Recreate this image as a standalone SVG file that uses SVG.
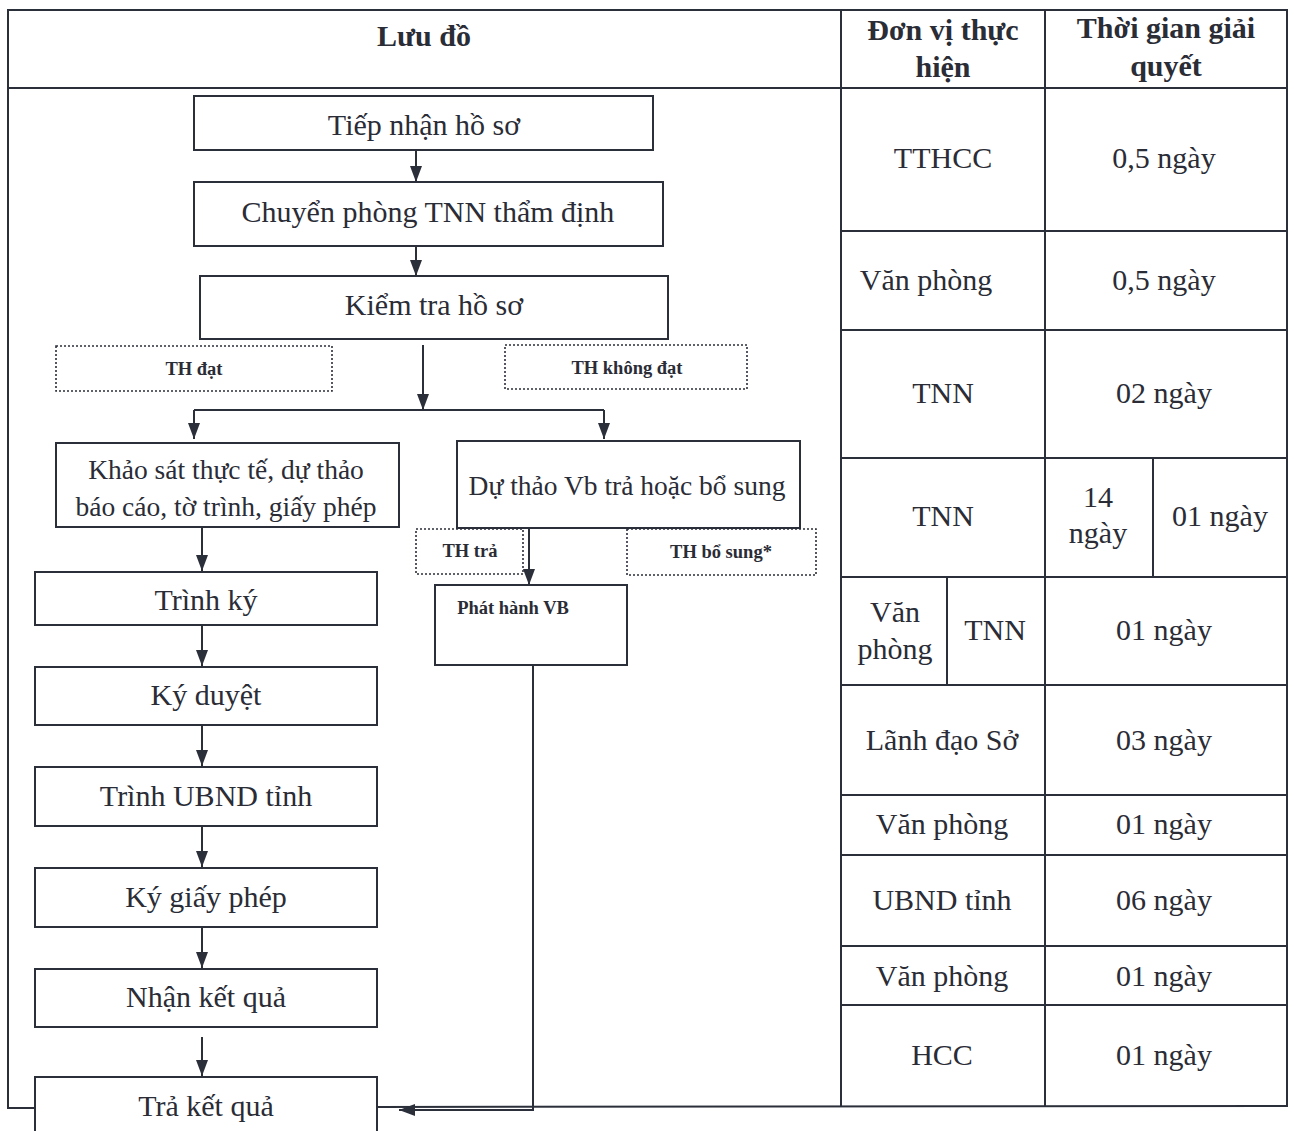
<svg xmlns="http://www.w3.org/2000/svg" width="1294" height="1131" viewBox="0 0 1294 1131">
  <style>
    .frame { fill: none; stroke: #2b2f3a; stroke-width: 2; }
    .box { fill: #ffffff; stroke: #2b2f3a; stroke-width: 2; }
    .dot { fill: #ffffff; stroke: #2b2f3a; stroke-width: 1.6; stroke-dasharray: 2 2; }
    .link { fill: none; stroke: #2b2f3a; stroke-width: 2; }
    text { font-family: "Liberation Serif", "Times New Roman", serif; fill: #2a2c36; text-anchor: middle; }
    .t { font-size: 30px; }
    .t2 { font-size: 27.5px; }
    .h { font-size: 30px; font-weight: bold; }
    .s { font-size: 18.5px; font-weight: bold; }
  </style>
  <defs>
    <marker id="arrow" viewBox="0 0 16 12" refX="16" refY="6" markerWidth="16" markerHeight="12" markerUnits="userSpaceOnUse" orient="auto">
      <path d="M0,0 L16,6 L0,12 Z" fill="#2b2f3a"/>
    </marker>
  </defs>
  <rect width="1294" height="1131" fill="#ffffff"/>

  <!-- table frame and grid -->
  <g id="table">
    <path class="frame" d="M35,1108 L8,1108 L8,10 L1287,10 L1287,1106 L377,1107"/>
    <path class="frame" d="M8,88 L1287,88"/>
    <path class="frame" d="M841,10 L841,1107 M1045,10 L1045,1106"/>
    <path class="frame" d="M841,231 L1287,231 M841,330 L1287,330 M841,458 L1287,458 M841,577 L1287,577 M841,685 L1287,685 M841,795 L1287,795 M841,855 L1287,855 M841,946 L1287,946 M841,1005 L1287,1005"/>
    <path class="frame" d="M1153,458 L1153,577 M947,577 L947,685"/>
    <text class="h" x="424" y="46">Lưu đồ</text>
    <text class="h" x="943" y="40">Đơn vị thực</text>
    <text class="h" x="943" y="77">hiện</text>
    <text class="h" x="1166" y="38">Thời gian giải</text>
    <text class="h" x="1166" y="76">quyết</text>

    <text class="t" x="943" y="168">TTHCC</text>
    <text class="t" x="1164" y="168">0,5 ngày</text>
    <text class="t" x="926" y="290">Văn phòng</text>
    <text class="t" x="1164" y="290">0,5 ngày</text>
    <text class="t" x="943" y="403">TNN</text>
    <text class="t" x="1164" y="403">02 ngày</text>
    <text class="t" x="943" y="526">TNN</text>
    <text class="t" x="1098" y="507">14</text>
    <text class="t" x="1098" y="543">ngày</text>
    <text class="t" x="1220" y="526">01 ngày</text>
    <text class="t" x="895" y="622">Văn</text>
    <text class="t" x="895" y="659">phòng</text>
    <text class="t" x="995" y="640">TNN</text>
    <text class="t" x="1164" y="640">01 ngày</text>
    <text class="t" x="942" y="750">Lãnh đạo Sở</text>
    <text class="t" x="1164" y="750">03 ngày</text>
    <text class="t" x="942" y="834">Văn phòng</text>
    <text class="t" x="1164" y="834">01 ngày</text>
    <text class="t" x="942" y="910">UBND tỉnh</text>
    <text class="t" x="1164" y="910">06 ngày</text>
    <text class="t" x="942" y="986">Văn phòng</text>
    <text class="t" x="1164" y="986">01 ngày</text>
    <text class="t" x="942" y="1065">HCC</text>
    <text class="t" x="1164" y="1065">01 ngày</text>
  </g>

  <!-- connectors -->
  <g id="connectors">
    <path class="link" d="M416,150 L416,182" marker-end="url(#arrow)"/>
    <path class="link" d="M416,246 L416,276" marker-end="url(#arrow)"/>
    <path class="link" d="M423,345 L423,410" marker-end="url(#arrow)"/>
    <path class="link" d="M194,410 L604,410"/>
    <path class="link" d="M194,410 L194,439" marker-end="url(#arrow)"/>
    <path class="link" d="M604,410 L604,439" marker-end="url(#arrow)"/>
    <path class="link" d="M529,528 L529,585" marker-end="url(#arrow)"/>
    <path class="link" d="M202,527 L202,571" marker-end="url(#arrow)"/>
    <path class="link" d="M202,625 L202,666" marker-end="url(#arrow)"/>
    <path class="link" d="M202,725 L202,766" marker-end="url(#arrow)"/>
    <path class="link" d="M202,826 L202,867" marker-end="url(#arrow)"/>
    <path class="link" d="M202,927 L202,968" marker-end="url(#arrow)"/>
    <path class="link" d="M202,1037 L202,1076" marker-end="url(#arrow)"/>
    <path class="link" d="M533,665 L533,1110 L399,1110" marker-end="url(#arrow)"/>
  </g>

  <!-- flowchart steps -->
  <g id="tiep-nhan">
    <rect class="box" x="194" y="96" width="459" height="54"/>
    <text class="t" x="424" y="135">Tiếp nhận hồ sơ</text>
  </g>
  <g id="chuyen-phong">
    <rect class="box" x="194" y="182" width="469" height="64"/>
    <text class="t" x="428" y="222">Chuyển phòng TNN thẩm định</text>
  </g>
  <g id="kiem-tra">
    <rect class="box" x="200" y="276" width="468" height="63"/>
    <text class="t" x="434" y="315">Kiểm tra hồ sơ</text>
  </g>
  <g id="th-dat">
    <rect class="dot" x="56" y="346" width="276" height="45"/>
    <text class="s" x="194" y="375">TH đạt</text>
  </g>
  <g id="th-khong-dat">
    <rect class="dot" x="505" y="345" width="242" height="44"/>
    <text class="s" x="627" y="374">TH không đạt</text>
  </g>
  <g id="khao-sat">
    <rect class="box" x="56" y="443" width="343" height="84"/>
    <text class="t2" x="226" y="479">Khảo sát thực tế, dự thảo</text>
    <text class="t2" x="226" y="516">báo cáo, tờ trình, giấy phép</text>
  </g>
  <g id="du-thao">
    <rect class="box" x="457" y="441" width="343" height="87"/>
    <text class="t2" x="627" y="495">Dự thảo Vb trả hoặc bổ sung</text>
  </g>
  <g id="th-tra">
    <rect class="dot" x="416" y="529" width="107" height="45"/>
    <text class="s" x="470" y="557">TH trả</text>
  </g>
  <g id="th-bo-sung">
    <rect class="dot" x="627" y="529" width="189" height="46"/>
    <text class="s" x="721" y="558">TH bổ sung*</text>
  </g>
  <g id="phat-hanh">
    <rect class="box" x="435" y="585" width="192" height="80"/>
    <text class="s" x="513" y="614">Phát hành VB</text>
  </g>
  <g id="trinh-ky">
    <rect class="box" x="35" y="572" width="342" height="53"/>
    <text class="t" x="206" y="610">Trình ký</text>
  </g>
  <g id="ky-duyet">
    <rect class="box" x="35" y="667" width="342" height="58"/>
    <text class="t" x="206" y="705">Ký duyệt</text>
  </g>
  <g id="trinh-ubnd">
    <rect class="box" x="35" y="767" width="342" height="59"/>
    <text class="t" x="206" y="806">Trình UBND tỉnh</text>
  </g>
  <g id="ky-giay-phep">
    <rect class="box" x="35" y="868" width="342" height="59"/>
    <text class="t" x="206" y="907">Ký giấy phép</text>
  </g>
  <g id="nhan-ket-qua">
    <rect class="box" x="35" y="969" width="342" height="58"/>
    <text class="t" x="206" y="1007">Nhận kết quả</text>
  </g>
  <g id="tra-ket-qua">
    <rect class="box" x="35" y="1077" width="342" height="70"/>
    <text class="t" x="206" y="1116">Trả kết quả</text>
  </g>
</svg>
